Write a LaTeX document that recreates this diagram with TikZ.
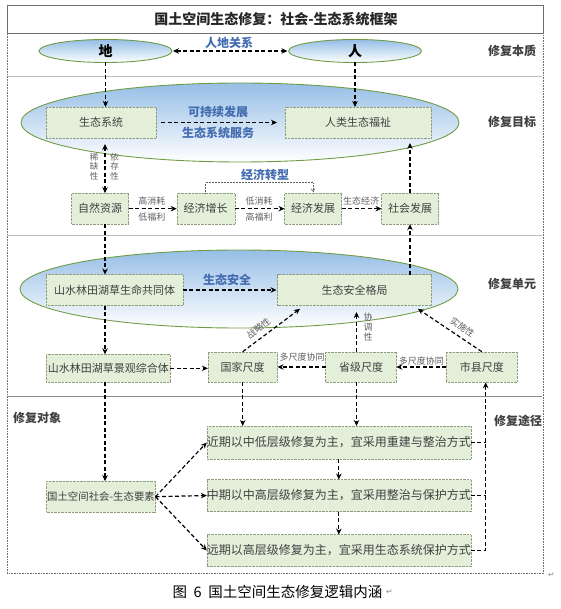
\documentclass[tikz,border=0pt]{standalone}
\usepackage{fontspec}
\setmainfont{Noto Sans CJK SC}
\newfontfamily\djv{DejaVu Sans}
\usetikzlibrary{arrows.meta,shapes.geometric}
\definecolor{boxfill}{RGB}{228,239,218}
\definecolor{boxline}{RGB}{140,158,125}
\definecolor{ellline}{RGB}{112,156,70}
\definecolor{elltop}{RGB}{150,190,230}
\definecolor{bluetxt}{RGB}{68,108,176}
\definecolor{txtgray}{RGB}{64,64,64}
\definecolor{lblgray}{RGB}{95,95,95}
\definecolor{frameline}{RGB}{110,110,110}
\definecolor{sepline}{RGB}{190,190,190}
\tikzset{
  box/.style={draw=boxline, densely dotted, fill=boxfill, inner sep=0pt, outer sep=0pt,
    text=txtgray, font=\fontsize{11}{13}\selectfont},
  ell/.style={ellipse, draw=ellline, line width=0.9pt, top color=elltop, bottom color=white,
    inner sep=0pt, outer sep=0pt},
  dl/.style={line width=1.2pt, dash pattern=on 4pt off 2.5pt},
  arr/.style={dl, -{Stealth[length=6pt,width=5.5pt]}},
  darr/.style={dl, {Stealth[length=6pt,width=5.5pt]}-{Stealth[length=6pt,width=5.5pt]}},
  bluelbl/.style={text=bluetxt, font=\bfseries\fontsize{12}{14}\selectfont, inner sep=1pt},
  sidelbl/.style={text=txtgray, font=\bfseries\fontsize{12}{14}\selectfont, inner sep=1pt},
  smalllbl/.style={text=lblgray, font=\fontsize{9}{10}\selectfont, inner sep=0.5pt},
  vlbl/.style={text=lblgray, font=\fontsize{8.5}{9.5}\selectfont, align=center, inner sep=0pt},
}
\begin{document}
\begin{tikzpicture}[x=1pt,y=-1pt]
\useasboundingbox (0,0) rectangle (560,609);
% frame
\node[draw=frameline, densely dotted, line width=0.6pt, anchor=north west, minimum width=536pt, minimum height=540pt, inner sep=0pt] (frame) at (7,33) {};
\node[draw=frameline, line width=0.8pt, anchor=north west, minimum width=536pt, minimum height=28pt, inner sep=0pt] (titlebox) at (7,5) {};
\node[text=black!85, font=\bfseries\fontsize{14}{16}\selectfont] (title) at (276,19.5) {国土空间生态修复：社会-生态系统框架};
\draw[sepline, line width=0.8pt] (8,76) -- (542,76);
\draw[sepline, line width=0.8pt] (8,235) -- (542,235);
\draw[frameline!80, line width=0.6pt] (8,396) -- (542,396);
% side labels
\node[sidelbl] (s1) at (512,51) {修复本质};
\node[sidelbl] (s2) at (512,122) {修复目标};
\node[sidelbl] (s3) at (512,284) {修复单元};
\node[sidelbl] (s4) at (518,421) {修复途径};
\node[sidelbl] (s5) at (37,418) {修复对象};
% ellipses
\node[ell, minimum width=133pt, minimum height=23pt, font=\bfseries\fontsize{14}{16}\selectfont] (di) at (105.5,51) {地};
\node[ell, minimum width=133pt, minimum height=23pt, font=\bfseries\fontsize{14}{16}\selectfont] (ren) at (355,51) {人};
\node[ell, minimum width=438pt, minimum height=79pt] (e1) at (240,122.5) {};
\node[ell, minimum width=438pt, minimum height=78pt] (e2) at (239,289) {};
% boxes
\node[box, minimum width=110pt, minimum height=31pt] (stxt) at (101,122.5) {生态系统};
\node[box, minimum width=146pt, minimum height=31pt] (rlfz) at (358,122.5) {人类生态福祉};
\node[box, minimum width=57pt, minimum height=31pt] (zrzy) at (100,208.7) {自然资源};
\node[box, minimum width=58pt, minimum height=31pt] (jjzz) at (205.7,208.7) {经济增长};
\node[box, minimum width=57pt, minimum height=31pt] (jjfz) at (313,208.7) {经济发展};
\node[box, minimum width=57pt, minimum height=31pt] (shfz) at (410,208.7) {社会发展};
\node[box, minimum width=136.5pt, minimum height=31pt] (smgt) at (114.6,290) {山水林田湖草生命共同体};
\node[box, minimum width=154pt, minimum height=31pt] (aqgj) at (354.5,290) {生态安全格局};
\node[box, minimum width=124pt, minimum height=28pt] (jgzh) at (108.4,368.3) {山水林田湖草景观综合体};
\node[box, minimum width=69.6pt, minimum height=30.6pt] (gj) at (242.7,367) {国家尺度};
\node[box, minimum width=70.7pt, minimum height=30.6pt] (sj) at (361,367) {省级尺度};
\node[box, minimum width=70.7pt, minimum height=30.6pt] (sx) at (481.8,367) {市县尺度};
\node[box, minimum width=258pt, minimum height=33pt, font=\fontsize{12}{14}\selectfont] (jq) at (338.8,442.5) {近期以中低层级修复为主，宜采用重建与整治方式};
\node[box, minimum width=258pt, minimum height=32pt, font=\fontsize{12}{14}\selectfont] (zq) at (338.8,495.5) {中期以中高层级修复为主，宜采用整治与保护方式};
\node[box, minimum width=258pt, minimum height=32pt, font=\fontsize{12}{14}\selectfont] (yq) at (338.8,550.5) {远期以高层级修复为主，宜采用生态系统保护方式};
\node[box, minimum width=109pt, minimum height=31pt, font=\fontsize{10.4}{12}\selectfont] (ys) at (101,496.7) {国土空间社会-生态要素};
% text labels
\node[bluelbl] (l_rd) at (229,43) {人地关系};
\node[bluelbl] (l_kc) at (218,112) {可持续发展};
\node[bluelbl] (l_fw) at (218,133) {生态系统服务};
\node[bluelbl] (l_zx) at (265,175) {经济转型};
\node[bluelbl] (l_aq) at (227,280) {生态安全};
\node[vlbl] (l_xq) at (94,166.5) {稀\\缺\\性};
\node[vlbl] (l_yc) at (114.5,166.5) {依\\存\\性};
\node[smalllbl] (l_g1) at (151.8,200.7) {高消耗};
\node[smalllbl] (l_d1) at (151.8,216.7) {低福利};
\node[smalllbl] (l_d2) at (259,200.7) {低消耗};
\node[smalllbl] (l_g2) at (259,216.7) {高福利};
\node[smalllbl] (l_sj) at (361,200.7) {生态经济};
\node[smalllbl] (l_dc1) at (302,357.3) {多尺度协同};
\node[smalllbl] (l_dc2) at (421.4,361) {多尺度协同};
\node[smalllbl, rotate=38] (l_zl) at (258.5,328.5) {战略性};
\node[vlbl, font=\fontsize{9}{10}\selectfont] (l_xt) at (368,327.5) {协\\调\\性};
\node[smalllbl, rotate=-35] (l_ss) at (462.5,327.5) {实施性};
% helper coordinates
\coordinate (colL) at (105,0);
\coordinate (stb) at ([yshift=-6pt]stxt.south);
\coordinate (rlb) at ([yshift=-5pt]rlfz.south);
\coordinate (tg) at ([xshift=-54.5pt,yshift=-3.3pt]aqgj.south);
\coordinate (ts) at ([xshift=2pt,yshift=-6.5pt]aqgj.south);
\coordinate (tx) at ([xshift=63.4pt,yshift=-3.3pt]aqgj.south);
\coordinate (rr) at (485.7,0);
% connectors
\draw[darr, shorten <=1pt, shorten >=1pt] (di) -- (ren);
\draw[arr] (di) -- (di |- stxt.north);
\draw[arr] (ren) -- (ren |- rlfz.north);
\draw[arr, shorten <=5pt, shorten >=8pt] (stxt) -- (rlfz);
\draw[darr] (zrzy.north -| colL) -- (stb -| colL);
\draw[arr] (zrzy) -- (jjzz);
\draw[arr] (jjzz) -- (jjfz);
\draw[arr] (jjfz) -- (shfz);
\draw[lblgray, line width=0.5pt, densely dotted, -{Straight Barb[length=2.5pt,width=4pt]}] (jjzz.north) -- ++(0,-10.5) -| ([yshift=1.5pt]jjfz.north);
\draw[arr] (shfz) -- (shfz |- rlb);
\draw[arr] (aqgj.north -| shfz) -- (shfz);
\draw[arr] (zrzy.south -| colL) -- (smgt.north -| colL);
\draw[arr, shorten >=1pt] (smgt) -- (aqgj);
\draw[arr] (smgt.south -| colL) -- (jgzh.north -| colL);
\draw[arr] (jgzh) -- (jgzh -| gj.west);
\draw[arr] (sj) -- (gj);
\draw[arr] (sx) -- (sj);
\draw[arr] (gj.north) -- (tg);
\draw[arr] (sj.north -| ts) -- (ts);
\draw[arr] (sx.north) -- (tx);
\draw[arr] (jgzh.south -| colL) -- (ys.north -| colL);
\draw[arr] (gj.south) -- (gj.south |- jq.north);
\draw[arr] (sj.south -| ts) -- (jq.north -| ts);
\draw[arr] (jq) -- (zq);
\draw[arr] (zq) -- (yq);
\draw[arr] (ys.east) -- (jq.west);
\draw[arr] (ys.east) -- (zq.west);
\draw[arr] (ys.east) -- (yq.west);
\draw[dl] (jq.east) -- (jq.east -| rr);
\draw[dl] (zq.east) -- (zq.east -| rr);
\draw[arr] (yq.east) -- (yq.east -| rr) -- (sx.south -| rr);
% caption
\node[text=black, font=\fontsize{14.5}{16}\selectfont] (cap) at (277.5,591.7) {图\hspace{0.45em}6\hspace{0.45em}国土空间生态修复逻辑内涵};
\node[anchor=west, inner sep=0pt, text=black!45, font=\djv\fontsize{8}{9}\selectfont] (pm1) at (cap.east) {↵};
\node[anchor=west, inner sep=0pt, text=black!45, font=\djv\fontsize{8}{9}\selectfont] (pm2) at (548,575) {↵};
\end{tikzpicture}
\end{document}
